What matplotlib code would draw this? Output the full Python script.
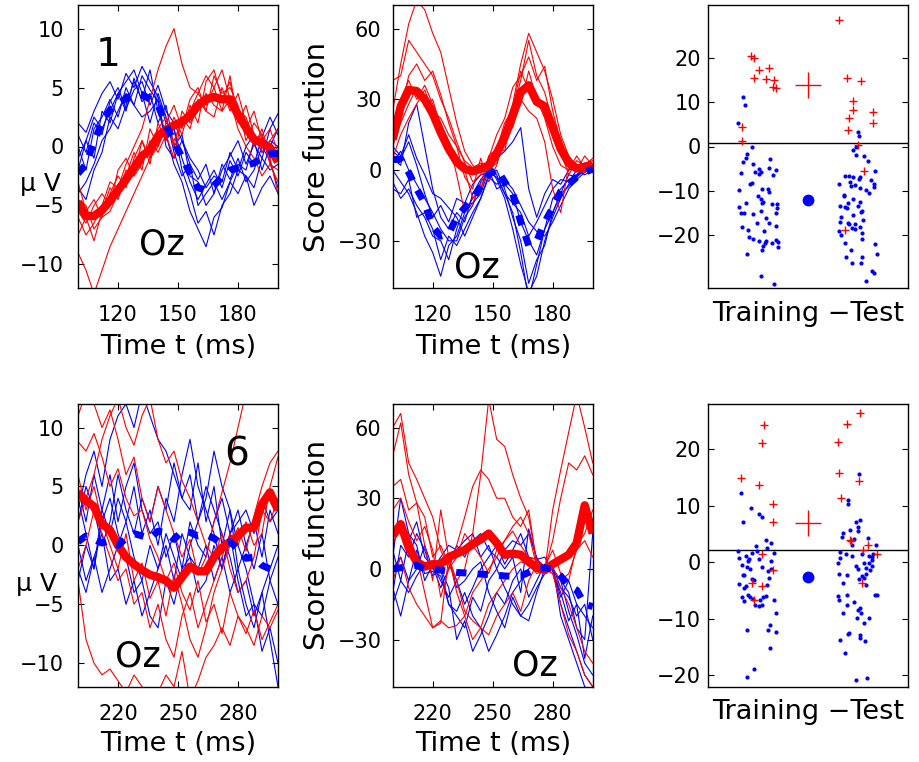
import matplotlib
matplotlib.use("Agg")
import matplotlib.pyplot as plt

plt.rcParams['font.family'] = ['DejaVu Sans']
plt.rcParams['axes.unicode_minus'] = True

# ---------------- sample times (ms) ----------------
t_early = [100, 104, 108, 112, 116, 120, 124, 128, 132, 136, 140, 144, 148,
           152, 156, 160, 164, 168, 172, 176, 180, 184, 188, 192, 196, 200]
t_late = [200, 204, 208, 212, 216, 220, 224, 228, 232, 236, 240, 244, 248,
          252, 256, 260, 264, 268, 272, 276, 280, 284, 288, 292, 296, 300]

# ---------------- component 1: ERP at Oz (uV) ----------------
erp1_blue = [
    [2.0, 1.2, 3.0, 4.5, 5.5, 4.0, 6.2, 5.0, 6.8, 5.5, 4.2, 2.0, 1.5, -1.0, -3.0, -4.5, -3.2, -2.0, -3.5, -1.2, -2.5, -0.5, -1.5, 0.8, 2.5, 1.0],
    [-3.5, -4.5, -2.0, -0.5, 2.5, 1.5, 3.5, 5.5, 4.0, 6.5, 3.0, 1.0, -1.5, -3.0, -5.5, -7.0, -8.5, -6.0, -5.2, -3.0, -4.0, -2.5, -3.5, -1.0, -2.0, -1.5],
    [1.0, -0.5, 2.0, 1.0, 3.8, 5.0, 3.2, 4.8, 5.5, 3.5, 5.2, 3.0, 2.0, 0.5, -1.5, -2.8, -1.5, -4.0, -2.0, -0.8, 0.5, -1.5, 0.2, -1.0, 1.5, 2.8],
    [-2.0, 0.5, -1.0, 3.0, 2.0, 4.5, 3.0, 5.8, 3.8, 4.5, 2.0, 3.5, 0.0, 1.0, -2.5, -3.0, -5.0, -4.0, -1.5, -2.8, -1.0, -3.0, -2.0, 0.0, -1.2, -3.5],
    [-4.0, -3.0, -1.5, 0.5, 1.5, 3.0, 4.5, 3.5, 2.5, 3.0, 4.0, 0.5, 1.5, -2.0, -4.0, -6.5, -5.5, -7.5, -5.0, -4.0, -2.0, -2.5, -5.0, -3.5, -2.5, -4.0],
    [0.0, -2.0, 1.5, 2.5, 4.0, 2.5, 5.0, 3.5, 6.0, 4.8, 3.8, 0.0, -1.0, 0.5, -1.0, -2.0, -3.5, -2.5, -3.0, -0.5, -2.0, 0.0, 1.0, -0.5, 0.5, 0.0],
    [-1.0, 0.5, 2.5, 1.5, 3.0, 4.5, 5.5, 6.5, 4.5, 2.0, 4.5, 2.5, -0.5, -2.5, -1.5, -5.0, -4.0, -3.0, -4.5, -3.0, -1.5, -2.0, 0.5, -2.0, 0.0, 1.5],
]
erp1_red = [
    [-9.0, -10.5, -12.5, -10.5, -8.5, -7.0, -5.5, -4.0, -2.5, -1.0, 0.0, 1.5, 0.5, 2.0, 3.0, 4.5, 3.5, 5.0, 3.0, 4.0, 1.5, 0.0, -1.0, -2.5, -1.5, -3.0],
    [-6.0, -7.5, -6.5, -5.0, -3.0, -3.5, -1.5, 0.0, 1.5, 4.0, 6.5, 8.5, 10.0, 7.0, 5.0, 4.5, 6.0, 5.0, 6.5, 4.0, 3.0, 2.5, 0.5, 1.0, -1.5, -2.0],
    [-4.5, -5.0, -7.0, -6.0, -4.0, -2.5, -3.5, -1.0, 0.5, -1.5, 2.0, 0.5, 2.5, 1.0, 3.5, 2.0, 5.5, 6.5, 4.0, 5.5, 2.5, 1.5, 3.0, 0.5, 1.5, -0.5],
    [-3.0, -5.5, -4.5, -6.0, -5.5, -4.0, -2.0, -2.5, -1.5, 0.5, -0.5, 1.0, -1.0, 2.5, 1.5, 4.0, 3.0, 2.5, 5.0, 3.0, 4.5, 2.0, 0.0, 1.5, -1.0, -4.0],
    [-5.5, -6.5, -5.0, -4.0, -5.0, -2.0, -1.0, -2.5, 0.5, -1.0, 1.5, 2.5, 0.0, 3.0, 2.0, 3.0, 4.5, 3.5, 3.0, 6.0, 2.0, 3.5, 1.0, -0.5, 0.5, 1.5],
    [-7.5, -6.0, -8.0, -5.5, -3.5, -4.5, -2.5, -0.5, -2.0, 1.5, 0.0, 2.0, 3.5, 1.5, 4.0, 5.0, 3.0, 6.0, 4.5, 5.0, 3.5, 0.5, 2.0, 1.0, -1.0, -0.5],
]
erp1_blue_mean = [-2.3, -1.5, 0.4, 2.0, 3.1, 3.5, 4.1, 4.4, 4.4, 4.0, 3.5, 1.8, 0.4, -0.9, -2.3, -3.5, -3.7, -3.3, -2.6, -2.0, -1.8, -1.6, -1.4, -1.0, -0.6, -0.6]
erp1_red_mean = [-4.7, -5.9, -5.9, -5.4, -4.6, -3.7, -2.8, -1.8, -0.8, -0.3, 0.9, 1.4, 1.8, 2.1, 2.6, 3.5, 4.0, 4.2, 4.0, 4.0, 2.7, 1.6, 0.6, 0.3, -0.1, -1.3]

# ---------------- component 1: score function ----------------
score1_blue = [
    [5, 2, 20, 28, 10, -8, -20, -25, -18, -22, -10, -4, 0, -2, -10, -18, -35, -55, -40, -25, -12, -8, -4, -2, 0, 1],
    [0, -5, -10, -18, -28, -35, -45, -32, -28, -18, -12, -8, 2, -4, -12, -25, -40, -52, -45, -30, -20, -12, -6, -3, 0, 0],
    [8, 5, 12, 2, -10, -20, -15, -22, -12, -14, -6, -2, -1, 5, 8, 12, 18, -8, -20, -10, -4, -6, 0, 1, 3, -1],
    [-5, -12, -8, -15, -20, -28, -30, -38, -25, -15, -14, -10, 0, -8, -6, -10, -22, -30, -36, -25, -18, -10, -7, -2, 1, 2],
    [3, 8, 0, -6, -12, -18, -25, -30, -30, -20, -15, -5, -1, -3, -10, -14, -18, -28, -22, -15, -8, -4, -5, 0, -2, 0],
    [10, 6, 15, 5, -2, -10, -12, -16, -20, -28, -20, -12, -3, -6, -4, -8, -15, -22, -26, -28, -22, -15, -8, -4, -1, 1],
    [-8, -10, -4, -20, -18, -25, -38, -28, -32, -25, -18, -12, -2, 0, -8, -20, -30, -48, -38, -32, -18, -10, -2, -3, 2, 0],
]
score1_red = [
    [25, 45, 62, 72, 68, 58, 50, 35, 20, 8, 2, 0, 3, 8, 18, 28, 45, 58, 50, 42, 30, 15, 6, 2, 3, 4],
    [38, 40, 55, 50, 45, 40, 30, 22, 12, 3, -5, -2, 5, 15, 22, 35, 40, 48, 38, 44, 25, 12, 5, 0, 6, 2],
    [10, 20, 28, 35, 27, 30, 18, 12, 5, 0, -12, -8, 0, 3, 12, 20, 28, 42, 30, 22, 10, 2, 0, 6, 1, 3],
    [15, 25, 40, 45, 38, 42, 32, 20, 10, 4, 1, 3, 1, 10, 8, 25, 38, 55, 40, 33, 20, 8, -2, 4, 2, 0],
    [5, 15, 22, 28, 34, 25, 22, 15, 10, -3, -8, 5, -5, 2, 15, 18, 30, 25, 22, 12, -8, -18, 2, 0, -1, 2],
    [20, 30, 38, 30, 36, 28, 20, 12, -2, -18, -14, -6, 6, 9, 20, 26, 42, 34, 28, 26, 18, 10, 3, 0, 2, 5],
]
score1_blue_mean = [4.5, 4.5, -1, -8, -14, -24, -28, -27, -20, -16, -12, -7, -2, 0.5, -5, -10, -22, -32, -30, -22, -16, -9, -6, -3, -1, 0.5]
score1_red_mean = [13, 27, 34, 33.5, 30, 24, 16, 9, 3.5, 0.5, -0.5, 0.5, 2, 7, 14, 23, 33, 36, 29, 27, 18, 9, 3, 0.7, 1, 2.5]

# ---------------- component 1: single-trial scores ----------------
trial1_blue_x = [0.70, 0.75, 0.60, 0.89, 0.78, 0.76, 0.71, 1.25, 0.91, 0.66, 1.03, 1.23, 1.36, 0.95, 1.06,
                 1.03, 1.30, 0.88, 0.85, 0.63, 1.09, 1.20, 1.23, 1.01, 1.06, 1.09, 1.11, 0.77, 1.28, 1.38,
                 0.62, 1.38, 0.67, 0.73, 0.91, 1.07, 1.36, 1.17, 0.98, 1.23, 0.69, 0.80, 1.37, 1.13, 0.83,
                 0.90, 1.03, 1.16, 1.14, 1.28, 1.36, 1.40, 1.40, 1.11, 1.08, 0.78, 1.07, 1.33,
                 3.01, 3.03, 2.96, 2.91, 2.97, 3.13, 3.21, 3.34, 2.75, 2.82, 2.91, 3.04, 3.03, 3.27, 3.33,
                 2.85, 2.86, 2.94, 3.05, 3.17, 3.23, 3.32, 2.62, 2.73, 2.72, 2.91, 3.04, 2.81, 2.65, 2.74,
                 2.79, 3.00, 3.08, 3.06, 2.90, 2.66, 3.11, 2.64, 2.81, 2.83, 2.94, 3.04, 2.88, 2.94, 2.62,
                 3.09, 2.67, 2.75, 3.08, 3.34, 2.86, 2.76, 3.09, 3.38, 2.88, 3.06, 3.28, 3.33, 3.16]
trial1_blue_y = [11.1, 9.4, 5.4, 0.0, -1.7, -2.5, -3.6, -2.9, -4.0, -5.9, -5.0, -4.8, -5.3, -5.7, -5.7,
                 -6.3, -6.5, -8.2, -8.5, -9.8, -9.5, -9.5, -10.3, -11.2, -11.9, -12.7, -12.6, -12.7, -13.1, -12.9,
                 -13.7, -14.0, -15.1, -15.1, -15.3, -14.6, -15.1, -16.1, -17.2, -17.4, -18.2, -18.8, -17.9, -19.2, -20.5,
                 -20.9, -21.4, -21.4, -21.9, -21.8, -21.1, -21.5, -22.8, -22.6, -23.4, -24.4, -29.2, -31.0,
                 3.2, 2.3, -0.2, -0.8, -2.0, -2.2, -3.3, -5.6, -6.6, -6.6, -6.8, -6.9, -7.4, -7.6, -8.5,
                 -8.1, -8.9, -8.8, -9.4, -9.8, -10.6, -9.1, -8.5, -11.0, -11.3, -11.9, -12.5, -12.8, -13.4, -13.6,
                 -13.9, -13.5, -14.5, -14.8, -15.6, -16.0, -16.7, -17.0, -17.2, -17.6, -17.6, -18.3, -18.5, -18.7, -19.1,
                 -19.5, -20.1, -21.8, -21.0, -22.0, -23.3, -25.0, -24.9, -24.4, -26.3, -26.3, -28.2, -28.5, -30.4]
trial1_red_x = [0.86, 0.93, 1.03, 1.23, 0.93, 1.16, 1.32, 1.30, 1.37, 0.69, 0.69,
                2.63, 2.78, 3.07, 2.90, 2.90, 3.31, 2.83, 3.31, 2.81, 3.00, 3.12, 2.75]
trial1_red_y = [20.4, 20.0, 17.4, 17.7, 15.5, 15.3, 15.1, 13.5, 13.2, 4.5, 1.3,
                28.7, 15.6, 14.7, 10.3, 8.2, 7.9, 6.4, 5.3, 3.8, 0.4, -5.5, -18.8]
trial1_threshold = 0.9
trial1_red_mean = 14.0
trial1_blue_mean = -12.0

# ---------------- component 6: ERP at Oz (uV) ----------------
erp6_blue = [
    [3, 6, 8, 5, 9, 11, 12, 10, 13, 11, 9, 8, 6, 4, 3, 7, 2, 5, 0, 3, -2, 0, 2, -1, 3, 1],
    [-3, 0, -2, 2, 4, 1, -1, -4, -3, -6, -7, -3, -5, -2, -1, -4, -3, 0, -2, 1, -3, -6, -5, -9, -7, -10],
    [5, 2, 6, 3, 1, 4, 2, 5, 1, 3, 0, 4, 2, 6, 9, 5, 3, 1, -2, 1, 3, 0, -2, 1, -3, -1],
    [0, -3, -1, -4, -2, 0, 2, -1, -3, 0, -2, 1, -1, -3, 0, 2, 5, 3, 1, -1, -4, -3, -6, -4, -8, -12],
    [2, 5, 3, 0, 2, 6, 3, 1, 4, 2, 5, 3, 7, 4, 6, 2, 4, 8, 5, 3, 0, -2, -5, -6, -3, -5],
    [-2, -4, -1, 1, -3, -2, -5, -3, -6, -4, -2, 0, -3, 1, -1, -2, 0, -3, -1, -4, -2, -5, -7, -4, -2, 0],
    [4, 1, -2, 3, 6, 2, 5, 7, 3, 1, 2, -1, 1, -2, 2, 0, -1, 2, 4, 1, 2, 3, 1, 4, 2, 3],
]
erp6_red = [
    [-3, -8, -10, -11, -10.5, -11.5, -12.5, -11, -12, -13, -12.5, -11, -12, -9, -13, -11.5, -9.5, -8.5, -7, -8.5, -6, -7.5, -5.5, -8, -6.5, -5],
    [8.8, 8.0, 9.5, 7.5, 5.0, 6.5, 4.0, 2.5, 3.0, 0.5, -1.0, -3.0, -1.5, -4.0, -5.5, -3.0, -6.5, -5.0, -7.5, -4.0, -6.0, -7.0, -8.5, -6.0, -7.0, -5.5],
    [11, 13, 12, 10, 11.5, 9, 6, 7.5, 4, 2, 5, 3, 1, -1, 0.5, -2.5, -1, 2, 4.5, 7, 10, 13, 12.5, 13, 13, 13],
    [-2, 0, 3, 1, -1, -3, -2, -5, -4, -7, -5, -8, -9.5, -6, -4, -7, -5, -3, -1, 1, 0, 2, 0, 1, 5, 7.5],
    [2, 4, 6, 9, 11, 12.5, 10, 8.5, 11, 12.5, 9, 7, 8, 5.5, 4, 2, 0, -1, 1, -2, -4, -3, -1, 3, 2, 4],
    [6, 3, 5, 2, 0, -2, 1, -3, -1.5, -4.5, -3, -6, -2.5, -5, -8, -9.5, -7, -4, -2, 0, 1.5, -0.5, 2.5, 5, 7, 8],
]
erp6_blue_mean = [0.3, 0.8, 0.5, 0.2, 0.4, 0.0, 0.6, 1.0, 0.8, 0.6, 1.2, 1.1, 0.5, 1.2, 1.1, 0.8, 0.9, 0.6, 0.1, 0.3, -0.3, -1.1, -1.0, -1.7, -2.0, -2.1]
erp6_red_mean = [4.5, 3.8, 3.3, 1.8, 1.3, 0.0, -1.0, -1.6, -2.1, -2.5, -2.7, -3.0, -3.6, -2.7, -1.8, -2.2, -2.2, -1.0, -0.2, 0.3, 0.8, 1.5, 1.5, 3.5, 4.5, 3.0]

# ---------------- component 6: score function ----------------
score6_blue = [
    [5, 30, 15, 10, -5, 2, 0, -15, -20, -25, -12, -18, -5, 0, 8, 12, 10, 15, 5, -2, 0, -15, -25, -35, -45, -50],
    [-10, 10, 5, 15, 8, -3, 0, -8, -30, -22, -35, -28, -20, -10, -15, -5, 0, -12, -5, 2, 0, -5, -18, -28, -40, -45],
    [-15, -5, -10, -3, 2, 0, 5, 10, 8, 12, 15, 5, 10, 0, -8, -15, -20, -22, -10, 0, 1, -8, -12, -20, -15, -30],
    [15, 20, 10, 5, 0, 2, -5, -12, -5, -15, -8, 0, 5, 10, 2, 8, 15, 5, 4, 5, -1, -10, -22, -15, -38, -20],
    [-8, -20, -5, 0, 10, 0, 2, 5, -8, -5, 0, 3, -10, -18, -25, -12, -20, -15, -8, -2, 0, -5, -10, -25, -30, 15],
    [0, 5, -5, 8, -2, -1, -3, -15, -18, -10, -20, -25, -35, -28, -20, -10, -5, 0, 3, 1, 0, -12, -5, -15, -20, -25],
    [8, -5, 12, 20, 5, 1, -8, 0, 10, 5, 12, 15, 8, 5, 0, 5, -10, 17, 4, 1, 2, -20, -30, -40, -50, -52],
]
score6_red = [
    [48, 62, 40, 28, 22, 5, 10, 2, -5, 0, 15, 40, 72, 55, 52, 40, 30, 22, 3, 1, -2, -8, -15, -25, -35, -40],
    [60, 66, 45, 38, 30, 22, 8, 0, 10, 22, 35, 42, 38, 30, 30, 22, 18, 25, 2, 0, 0, -5, -2, 8, 12, 5],
    [35, 38, 25, 28, 10, -5, 25, 5, -5, -18, -22, -25, -28, -20, -15, -10, -18, -5, 2, -1, 25, 42, 58, 74, 60, 45],
    [10, 20, 15, 5, -10, -25, -22, -25, -24, -20, -10, -5, 0, 5, 12, 18, 22, 15, 1, 0, -2, -15, -28, -35, -45, -50],
    [25, 30, 20, 12, 18, 8, -12, 0, 5, 15, 10, 5, -2, 8, 12, 16, 10, 5, 4, 1, 8, -2, -5, 10, 15, 25],
    [-5, 5, -8, -15, -20, -25, -23, 5, -10, -20, -30, -25, -15, -10, -5, 0, 3, 2, -2, 0, 12, 30, 45, 42, 48, 40],
]
score6_blue_mean = [0, 0.5, 1, 1.5, 0, -0.3, -0.5, -1, -1.5, -1.7, -2, -2.2, -2.4, -2.6, -3, -3.1, -3, -1.5, 0.2, 0.4, 0, -3, -7, -9, -15, -16]
score6_red_mean = [14, 19, 9, 3, 1, 2, 2, 5, 6.5, 8, 10.5, 12.5, 15, 11, 6, 6.5, 6, 3, 0.5, -0.5, 2, 4, 6, 11, 27, 15]

# ---------------- component 6: single-trial scores ----------------
trial6_blue_x = [0.66, 0.87, 1.03, 1.09, 0.71, 1.16, 1.27, 0.97, 1.18, 0.61, 0.98, 0.88, 1.03, 0.76, 0.83,
                 0.80, 0.62, 1.27, 1.33, 0.68, 0.78, 0.85, 1.09, 1.21, 1.26, 0.70, 0.73, 1.23, 0.88, 0.93,
                 0.63, 0.77, 0.73, 1.19, 0.81, 0.68, 0.85, 1.17, 1.11, 0.73, 0.91, 1.05, 1.33, 0.95, 1.02,
                 1.08, 1.36, 1.25, 1.20, 1.36, 0.79, 1.24, 0.92, 0.79,
                 3.02, 2.81, 2.80, 3.04, 2.96, 2.85, 3.01, 3.01, 2.71, 2.68, 2.93, 3.20, 3.36, 2.88, 2.65,
                 2.76, 2.65, 2.60, 2.89, 3.08, 3.22, 3.29, 3.31, 3.28, 2.96, 3.12, 3.23, 3.16, 3.28, 3.01,
                 3.25, 2.62, 2.78, 3.03, 3.08, 3.12, 3.17, 3.16, 2.70, 2.61, 2.79, 3.35, 3.39, 2.63, 2.93,
                 2.79, 3.05, 3.01, 3.07, 2.71, 2.98, 3.23, 3.12, 2.83, 2.80, 3.05, 3.05, 3.15, 2.65, 2.75,
                 3.18, 2.97]
trial6_blue_y = [12.3, 9.6, 8.5, 8.1, 7.2, 3.9, 3.5, 2.9, 2.5, 2.0, 2.0, 1.7, 0.6, 1.2, 0.6,
                 0.2, 0.7, 0.3, 1.7, -0.5, -0.8, -1.2, -0.9, -1.5, -1.2, -2.2, -2.2, -2.7, -3.0, -3.2,
                 -3.9, -4.2, -4.5, -4.1, -5.7, -6.1, -6.1, -6.0, -6.2, -6.9, -6.5, -6.7, -6.6, -7.5, -7.8,
                 -7.6, -9.0, -11.1, -12.0, -12.4, -12.0, -15.2, -18.9, -20.3,
                 15.6, 11.1, 10.4, 7.5, 7.1, 5.8, 6.2, 5.5, 5.2, 4.5, 4.2, 4.3, 3.0, 3.0, 1.9,
                 1.4, 0.7, -0.2, 1.1, 1.5, 1.1, 1.0, 1.5, 0.4, -0.6, -0.1, -0.1, -1.0, -0.6, -1.2,
                 -1.4, -2.1, -2.3, -2.9, -2.5, -2.7, -2.1, -4.1, -3.6, -6.0, -5.7, -5.7, -5.7, -6.6, -7.0,
                 -7.5, -8.1, -8.5, -8.9, -8.9, -9.9, -9.8, -10.7, -12.5, -12.6, -12.9, -13.3, -13.9, -13.7, -16.1,
                 -20.5, -20.9]
trial6_red_x = [1.13, 1.09, 0.66, 1.03, 1.31, 1.31, 1.08, 1.31, 0.89, 1.08, 0.93,
                3.05, 2.78, 2.60, 2.63, 3.02, 2.67, 2.85, 2.86, 3.11, 3.21, 3.38, 3.08]
trial6_red_y = [24.3, 21.1, 14.9, 13.7, 10.4, 7.2, 1.5, -1.4, -3.6, -4.2, -6.6,
                26.4, 24.5, 21.2, 15.8, 14.4, 11.3, 4.0, 3.8, 2.1, 3.0, 1.4, -3.6]
trial6_threshold = 2.2
trial6_red_mean = 7.0
trial6_blue_mean = -2.6

# ---------------- figure ----------------
fig = plt.figure(figsize=(9.19, 7.62), dpi=100)

W = 200 / 919
H_top, H_bot = 283 / 762, 282.7 / 762
B_top, B_bot = 1 - 288 / 762, 1 - 686.7 / 762
L_cols = [78 / 919, 392.7 / 919, 707.7 / 919]

TICK_FS = 15
LABEL_FS = 19.5


def style_axes(ax, ypad):
    ax.tick_params(direction='in', length=4.5, width=0.8, top=True, right=True,
                   labelsize=TICK_FS)
    ax.tick_params(axis='x', pad=12.5)
    ax.tick_params(axis='y', pad=ypad)
    for sp in ax.spines.values():
        sp.set_linewidth(1.0)


def trace_panel(ax, t, blue, red, blue_mean, red_mean, ylim, yticks, xticks):
    for tr in blue:
        ax.plot(t, tr, color='#0000ff', lw=0.8)
    for tr in red:
        ax.plot(t, tr, color='#ff0000', lw=0.8)
    ax.plot(t, red_mean, color='#ff0000', lw=6.0, solid_joinstyle='round',
            solid_capstyle='butt')
    ax.plot(t, blue_mean, color='#0000ff', lw=5.0, linestyle=(0, (1.5, 1.6)),
            dash_capstyle='butt')
    ax.set_xlim(t[0], t[-1])
    ax.set_ylim(*ylim)
    ax.set_xticks(xticks)
    ax.set_yticks(yticks)
    ax.set_xlabel('Time t (ms)', fontsize=LABEL_FS)


def trial_panel(ax, bx, by, rx, ry, thr, rmean, bmean, ylim):
    ax.axhline(thr, color='k', lw=1.0)
    ax.plot(bx, by, 'o', color='#0000ff', ms=3.0, mec='none')
    ax.plot(rx, ry, '+', color='#ff0000', ms=6.0, mew=1.0)
    ax.plot([2], [rmean], '+', color='#ff0000', ms=19, mew=1.0)
    ax.plot([2], [bmean], 'o', color='#0000ff', ms=8.5, mec='none')
    ax.set_xlim(0, 4)
    ax.set_ylim(*ylim)
    ax.set_xticks([])
    ax.set_yticks([-20, -10, 0, 10, 20])
    ax.set_xlabel('Training \u2212Test', fontsize=LABEL_FS)


rows = [
    dict(bottom=B_top, height=H_top, t=t_early,
         erp=(erp1_blue, erp1_red, erp1_blue_mean, erp1_red_mean),
         score=(score1_blue, score1_red, score1_blue_mean, score1_red_mean),
         trial=(trial1_blue_x, trial1_blue_y, trial1_red_x, trial1_red_y,
                trial1_threshold, trial1_red_mean, trial1_blue_mean),
         trial_ylim=(-32, 32), xticks=[120, 150, 180],
         label='1', label_xy=(115, 7.8),
         oz_erp=(142, -8.3), oz_score=(142, -41.5),
         uv_xy=(-0.19, 0.378), xlabel_y=-0.163, trial_xlabel_y=-0.045),
    dict(bottom=B_bot, height=H_bot, t=t_late,
         erp=(erp6_blue, erp6_red, erp6_blue_mean, erp6_red_mean),
         score=(score6_blue, score6_red, score6_blue_mean, score6_red_mean),
         trial=(trial6_blue_x, trial6_blue_y, trial6_red_x, trial6_red_y,
                trial6_threshold, trial6_red_mean, trial6_blue_mean),
         trial_ylim=(-22, 28), xticks=[220, 250, 280],
         label='6', label_xy=(279.5, 7.7),
         oz_erp=(230, -9.4), oz_score=(271, -41.2),
         uv_xy=(-0.21, 0.372), xlabel_y=-0.155, trial_xlabel_y=-0.045),
]

for r in rows:
    ax1 = fig.add_axes([L_cols[0], r['bottom'], W, r['height']])
    trace_panel(ax1, r['t'], *r['erp'], ylim=(-12, 12),
                yticks=[-10, -5, 0, 5, 10], xticks=r['xticks'])
    style_axes(ax1, ypad=10)
    ax1.xaxis.set_label_coords(0.5, r['xlabel_y'])
    ax1.text(*r['label_xy'], r['label'], fontsize=28, ha='center', va='center')
    ax1.text(*r['oz_erp'], 'Oz', fontsize=25, ha='center', va='center')
    ax1.text(*r['uv_xy'], '\u03bc V', fontsize=18, ha='center', va='center_baseline',
             transform=ax1.transAxes)

    ax2 = fig.add_axes([L_cols[1], r['bottom'], W, r['height']])
    trace_panel(ax2, r['t'], *r['score'], ylim=(-50, 70),
                yticks=[-30, 0, 30, 60], xticks=r['xticks'])
    style_axes(ax2, ypad=8)
    ax2.xaxis.set_label_coords(0.5, r['xlabel_y'])
    ax2.set_ylabel('Score function', fontsize=21)
    ax2.yaxis.set_label_coords(-0.31, 0.5)
    ax2.text(*r['oz_score'], 'Oz', fontsize=25, ha='center', va='center')

    ax3 = fig.add_axes([L_cols[2], r['bottom'], W, r['height']])
    trial_panel(ax3, *r['trial'], ylim=r['trial_ylim'])
    style_axes(ax3, ypad=5)
    ax3.tick_params(axis='x', top=False, bottom=False)
    ax3.xaxis.set_label_coords(0.5, r['trial_xlabel_y'])

fig.savefig('out.png', dpi=100)
